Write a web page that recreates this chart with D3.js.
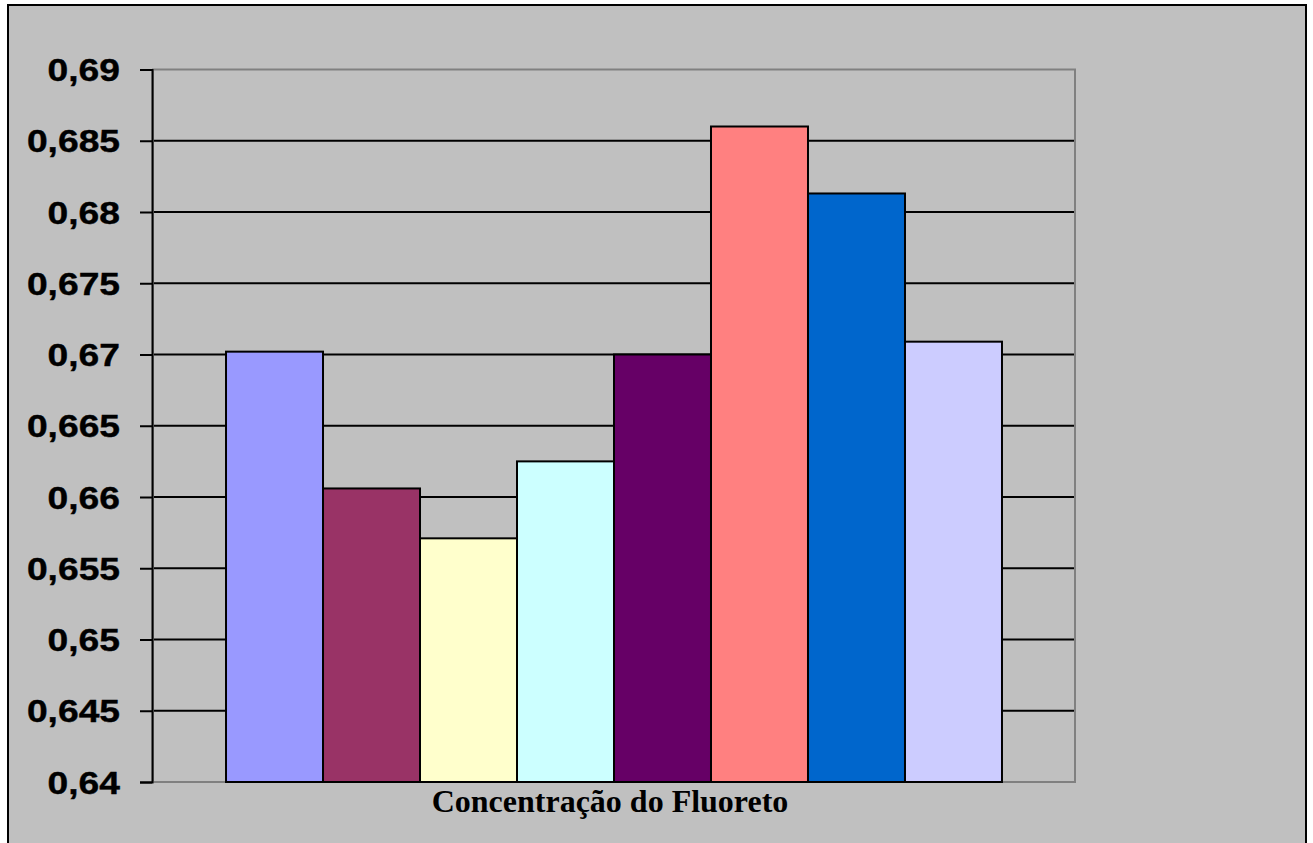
<!DOCTYPE html>
<html>
<head>
<meta charset="utf-8">
<script src="https://cdn.jsdelivr.net/npm/d3@7"></script>
<style>
  html, body { margin: 0; padding: 0; background: #ffffff; }
  svg { display: block; }
</style>
</head>
<body>
<div id="chart"></div>
<script>
// Single category, eight series
const categories = ["Concentração do Fluoreto"];
const seriesNames = ["S1", "S2", "S3", "S4", "S5", "S6", "S7", "S8"];
const seriesValues = [0.6702, 0.6606, 0.6571, 0.6625, 0.6700, 0.6860, 0.6813, 0.6709];
const seriesColors = ["#9999FF", "#993366", "#FFFFCC", "#CCFFFF", "#660066", "#FF8080", "#0066CC", "#CCCCFF"];
const yTicks = [0.64, 0.645, 0.65, 0.655, 0.66, 0.665, 0.67, 0.675, 0.68, 0.685, 0.69];
const yTickLabels = ["0,64", "0,645", "0,65", "0,655", "0,66", "0,665", "0,67", "0,675", "0,68", "0,685", "0,69"];

const W = 1313, H = 843;
const plot = { left: 153, right: 1075, top: 69.5, bottom: 782 };

const svg = d3.select("#chart").append("svg")
  .attr("width", W).attr("height", H);

// chart area frame
svg.append("rect")
  .attr("x", 8).attr("y", 5)
  .attr("width", 1298).attr("height", 860)
  .attr("fill", "#C0C0C0")
  .attr("stroke", "#000").attr("stroke-width", 2);

const y = d3.scaleLinear()
  .domain([yTicks[0], yTicks[yTicks.length - 1]])
  .range([plot.bottom, plot.top]);

const x0 = d3.scaleBand()
  .domain(categories)
  .range([plot.left, plot.right])
  .paddingInner(0.086)
  .paddingOuter(0.086);

const x1 = d3.scaleBand()
  .domain(seriesNames)
  .range([0, x0.bandwidth()])
  .padding(0);

// horizontal gridlines (inner ones black)
svg.append("g")
  .selectAll("line")
  .data(yTicks.slice(1, -1))
  .join("line")
  .attr("x1", plot.left).attr("x2", plot.right)
  .attr("y1", d => y(d)).attr("y2", d => y(d))
  .attr("stroke", "#000").attr("stroke-width", 2);

// plot-area border (gray)
svg.append("rect")
  .attr("x", plot.left).attr("y", y(yTicks[yTicks.length - 1]))
  .attr("width", plot.right - plot.left)
  .attr("height", y(yTicks[0]) - y(yTicks[yTicks.length - 1]))
  .attr("fill", "none")
  .attr("stroke", "#808080").attr("stroke-width", 2);

// bars
const barGroup = svg.append("g")
  .attr("transform", `translate(${x0(categories[0])},0)`);

barGroup.selectAll("rect")
  .data(seriesValues.map((v, i) => ({ name: seriesNames[i], value: v, color: seriesColors[i] })))
  .join("rect")
  .attr("x", d => x1(d.name))
  .attr("y", d => y(d.value))
  .attr("width", x1.bandwidth())
  .attr("height", d => y(yTicks[0]) - y(d.value))
  .attr("fill", d => d.color)
  .attr("stroke", "#000").attr("stroke-width", 2);

// y axis
const yAxis = d3.axisLeft(y)
  .tickValues(yTicks)
  .tickSize(12)
  .tickPadding(20)
  .tickFormat((d, i) => yTickLabels[i]);

const yAxisG = svg.append("g")
  .attr("transform", `translate(${plot.left - 1},0)`)
  .call(yAxis);

yAxisG.select(".domain")
  .attr("stroke", "#000").attr("stroke-width", 2);
yAxisG.selectAll(".tick line")
  .attr("stroke", "#000").attr("stroke-width", 2);
yAxisG.selectAll(".tick text")
  .attr("fill", "#000")
  .attr("font-family", "'Liberation Sans', Arial, sans-serif")
  .attr("font-weight", "bold")
  .attr("font-size", 31)
  .attr("x", 0)
  .attr("dy", "0.36em")
  .attr("text-anchor", "end")
  .attr("stroke", "#000").attr("stroke-width", 0.4)
  .attr("transform", "translate(-32,0) scale(1.2,1)");

// category label
svg.append("text")
  .attr("x", (plot.left + plot.right) / 2 - 4)
  .attr("y", 812)
  .attr("text-anchor", "middle")
  .attr("font-family", "'Liberation Serif', 'Times New Roman', serif")
  .attr("font-weight", "bold")
  .attr("font-size", 32)
  .attr("fill", "#000")
  .text(categories[0]);
</script>
</body>
</html>
